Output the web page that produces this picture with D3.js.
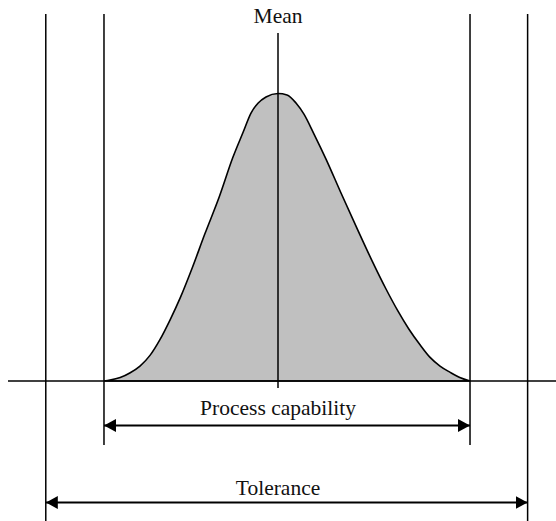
<!DOCTYPE html>
<html>
<head>
<meta charset="utf-8">
<script src="https://cdn.jsdelivr.net/npm/d3@7"></script>
<style>
	body { margin: 0; background: #fff; }
	text { font-family: "Liberation Serif", "Times New Roman", serif; fill: #111; }
</style>
</head>
<body>
<svg id="chart"></svg>
<script>
// process spread, in sigma units round the mean
var curveX = [-2.9, -2.8, -2.63, -2.47, -2.3, -2.13, -1.97, -1.8, -1.63, -1.43, -1.22, -0.98, -0.75, -0.58, -0.45, -0.33, -0.2, 0,
	0.15, 0.3, 0.43, 0.6, 0.8, 1.05, 1.33, 1.57, 1.8, 2.0, 2.18, 2.37, 2.53, 2.7, 2.87, 3.03, 3.2];
var curveY = [0, 0.003, 0.012, 0.028, 0.052, 0.09, 0.143, 0.212, 0.289, 0.393, 0.511, 0.64, 0.779, 0.866, 0.932, 0.967, 0.988, 1,
	0.995, 0.967, 0.929, 0.859, 0.772, 0.654, 0.525, 0.417, 0.32, 0.243, 0.181, 0.125, 0.083, 0.052, 0.03, 0.012, 0];

// limits
var tolLimits = [-3.87, 4.16];
var capLimits = [-2.9, 3.2];
var meanX = 0;

var labels = ["Mean", "Process capability", "Tolerance"];

var width = 556, height = 521;
var baseY = 381;

var svg = d3.select("#chart")
	.attr("width", width)
	.attr("height", height);

var x = d3.scaleLinear()
	.domain([-4.633, 4.633])
	.range([0, width]);
var y = d3.scaleLinear()
	.domain([0, 1])
	.range([baseY, 93.5]);

var pts = curveX.map(function(d, i) { return [d, curveY[i]]; });

var defs = svg.append("defs");
defs.append("marker")
	.attr("id", "head")
	.attr("viewBox", "0 0 12 13")
	.attr("refX", 12)
	.attr("refY", 6.5)
	.attr("markerWidth", 12)
	.attr("markerHeight", 13)
	.attr("markerUnits", "userSpaceOnUse")
	.attr("orient", "auto-start-reverse")
	.append("path")
		.attr("d", "M 0 0 L 12 6.5 L 0 13 Z")
		.attr("fill", "#000");

// filled bell
svg.append("path")
	.datum(pts)
	.attr("fill", "#c0c0c0")
	.attr("stroke", "#000")
	.attr("stroke-width", 1.6)
	.attr("d", d3.area()
		.x(function(d) { return x(d[0]); })
		.y0(baseY)
		.y1(function(d) { return y(d[1]); })
		.curve(d3.curveMonotoneX));

// axis over the area's bottom edge
svg.append("line")
	.attr("x1", 8).attr("x2", width)
	.attr("y1", baseY).attr("y2", baseY)
	.attr("stroke", "#000")
	.attr("stroke-width", 1.5);

// vertical limit lines
svg.selectAll(".tol")
	.data(tolLimits)
	.enter().append("line")
		.attr("class", "tol")
		.attr("x1", function(d) { return x(d); })
		.attr("x2", function(d) { return x(d); })
		.attr("y1", 14).attr("y2", height)
		.attr("stroke", "#000")
		.attr("stroke-width", 1.5);

svg.selectAll(".cap")
	.data(capLimits)
	.enter().append("line")
		.attr("class", "cap")
		.attr("x1", function(d) { return x(d); })
		.attr("x2", function(d) { return x(d); })
		.attr("y1", 14).attr("y2", 445)
		.attr("stroke", "#000")
		.attr("stroke-width", 1.5);

svg.append("line")
	.attr("x1", x(meanX)).attr("x2", x(meanX))
	.attr("y1", 33).attr("y2", 388)
	.attr("stroke", "#000")
	.attr("stroke-width", 1.5);

// arrows
function arrow(lims, yy) {
	svg.append("line")
		.attr("x1", x(lims[0])).attr("x2", x(lims[1]))
		.attr("y1", yy).attr("y2", yy)
		.attr("stroke", "#000")
		.attr("stroke-width", 2)
		.attr("marker-start", "url(#head)")
		.attr("marker-end", "url(#head)");
}
arrow(capLimits, 425.5);
arrow(tolLimits, 502.5);

// labels
var fs = 21.5;
svg.append("text")
	.attr("x", x(meanX)).attr("y", 23)
	.attr("text-anchor", "middle")
	.attr("font-size", fs)
	.text(labels[0]);
svg.append("text")
	.attr("x", x(meanX)).attr("y", 415)
	.attr("text-anchor", "middle")
	.attr("font-size", fs)
	.text(labels[1]);
svg.append("text")
	.attr("x", x(meanX)).attr("y", 495)
	.attr("text-anchor", "middle")
	.attr("font-size", fs)
	.text(labels[2]);
</script>
</body>
</html>
